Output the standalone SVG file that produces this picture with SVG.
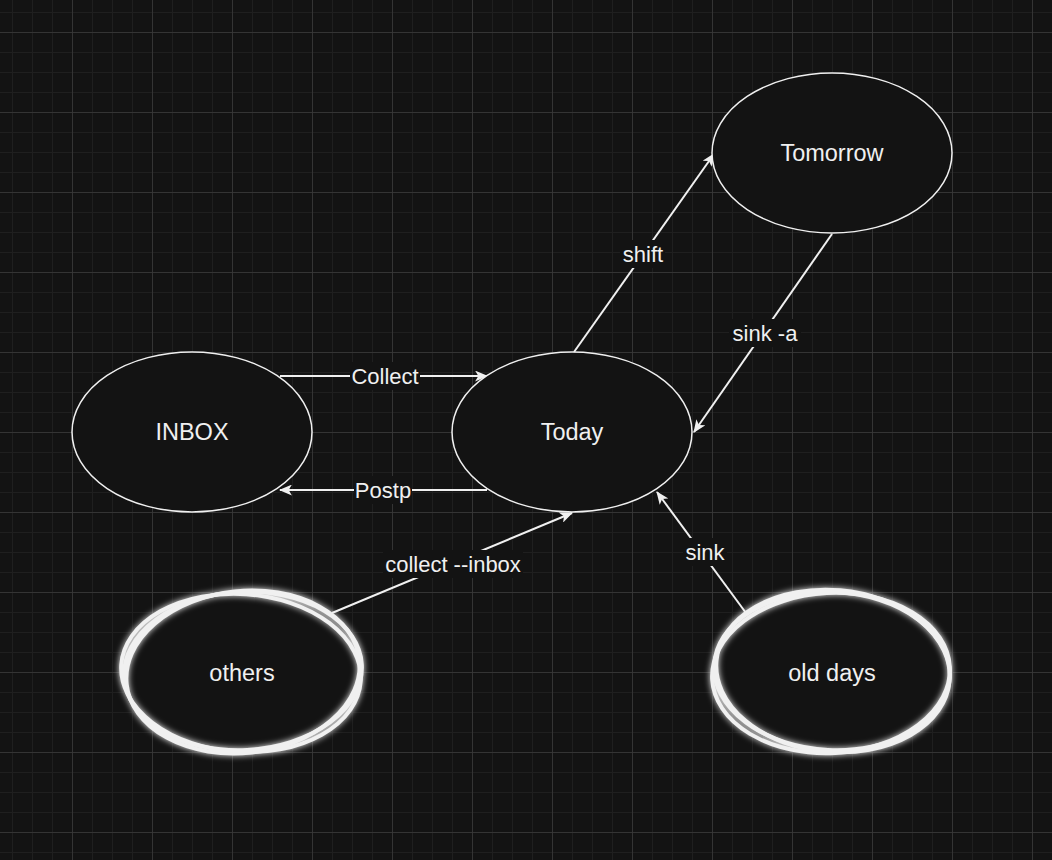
<svg xmlns="http://www.w3.org/2000/svg" width="1052" height="860" viewBox="0 0 1052 860">
<defs>
<pattern id="minor" width="20" height="20" patternUnits="userSpaceOnUse" x="12" y="12">
<path d="M0 0 H20 M0 0 V20" fill="none" stroke="#1f1f1f" stroke-width="2"/>
</pattern>
<pattern id="major" width="80" height="80" patternUnits="userSpaceOnUse" x="72" y="32">
<path d="M0 0 H80 M0 0 V80" fill="none" stroke="#3a3a3a" stroke-width="1.5"/>
</pattern>
<marker id="arr" viewBox="0 0 12 10" refX="11" refY="5" markerWidth="13" markerHeight="11" markerUnits="userSpaceOnUse" orient="auto">
<path d="M0 0 L12 5 L0 10 L3 5 Z" fill="#f0f0f0"/>
</marker>
<filter id="glow2" x="-20%" y="-20%" width="140%" height="140%">
<feGaussianBlur in="SourceGraphic" stdDeviation="3" result="b"/>
<feMerge><feMergeNode in="b"/><feMergeNode in="SourceGraphic"/></feMerge>
</filter>
</defs>
<style>
.node{fill:#131313;stroke:#f0f0f0;stroke-width:1.5}
.sk{fill:none;stroke:#f0f0f0;stroke-width:4}
.t{font-family:"Liberation Sans",Arial,sans-serif;font-size:23.5px;fill:#f0f0f0;text-anchor:middle;dominant-baseline:central}
.el{font-family:"Liberation Sans",Arial,sans-serif;font-size:22px;fill:#f0f0f0;text-anchor:middle;dominant-baseline:central}
.edge{fill:none;stroke:#f0f0f0;stroke-width:2;marker-end:url(#arr)}
.lb{fill:#131313}
</style>
<rect width="1052" height="860" fill="#131313"/>
<rect width="1052" height="860" fill="url(#minor)"/>
<rect width="1052" height="860" fill="url(#major)"/>

<g id="connectors">
<path class="edge" d="M280 376 L487 376"/>
<path class="edge" d="M487 490 L280 490"/>
<path class="edge" d="M574 352 L714 154"/>
<path class="edge" d="M832 234 L694 432"/>
<path class="edge" d="M332 613 L572 513"/>
<path class="edge" d="M746 613 L657 492"/>
<rect class="lb" x="350" y="362" width="70" height="28"/>
<text class="el" x="385" y="376">Collect</text>
<rect class="lb" x="354" y="476" width="58" height="28"/>
<text class="el" x="383" y="490">Postp</text>
<rect class="lb" x="620" y="240" width="45" height="28"/>
<text class="el" x="643" y="254">shift</text>
<rect class="lb" x="729" y="319" width="72" height="28"/>
<text class="el" x="765" y="333">sink -a</text>
<rect class="lb" x="383" y="550" width="140" height="28"/>
<text class="el" x="453" y="564">collect --inbox</text>
<rect class="lb" x="683" y="538" width="44" height="28"/>
<text class="el" x="705" y="552">sink</text>
</g>

<g id="tomorrow">
<ellipse class="node" cx="832" cy="153" rx="120" ry="80"/>
<text class="t" x="832" y="153">Tomorrow</text>
</g>
<g id="inbox">
<ellipse class="node" cx="192" cy="432" rx="120" ry="80"/>
<text class="t" x="192" y="432">INBOX</text>
</g>
<g id="today">
<ellipse class="node" cx="572" cy="432" rx="120" ry="80"/>
<text class="t" x="572" y="432">Today</text>
</g>
<g id="others">
<ellipse cx="242" cy="672" rx="120" ry="80" fill="#131313"/>
<g filter="url(#glow2)">
<ellipse class="sk" cx="243" cy="671" rx="119" ry="79" transform="rotate(-3 243 671)"/>
<ellipse class="sk" cx="241" cy="673" rx="120" ry="79" transform="rotate(4 241 673)"/>
<ellipse class="sk" cx="243" cy="672" rx="117" ry="81" transform="rotate(-6 243 672)"/>
</g>
<text class="t" x="242" y="673">others</text>
</g>
<g id="olddays">
<ellipse cx="832" cy="672" rx="118" ry="80" fill="#131313"/>
<g filter="url(#glow2)">
<ellipse class="sk" cx="832" cy="671" rx="118" ry="79" transform="rotate(3 832 671)"/>
<ellipse class="sk" cx="831" cy="673" rx="119" ry="80" transform="rotate(-3 831 673)"/>
<ellipse class="sk" cx="833" cy="671" rx="117" ry="81" transform="rotate(5 833 671)"/>
</g>
<text class="t" x="832" y="673">old days</text>
</g>
</svg>
